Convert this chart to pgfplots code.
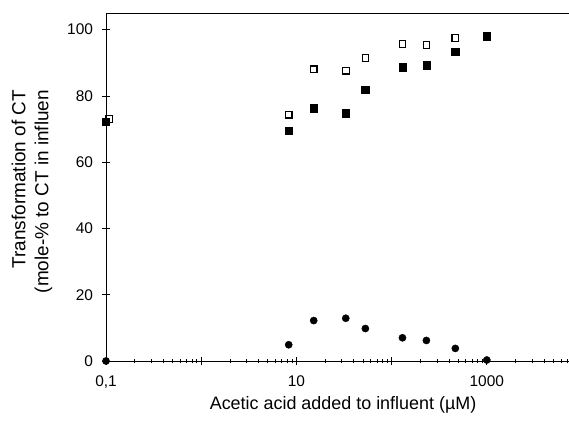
\documentclass[border=0pt]{standalone}
\usepackage{fontspec}
\setmainfont{Liberation Sans}
\usepackage{pgfplots}
\pgfplotsset{compat=1.18}
\begin{document}
\begin{tikzpicture}
\path[use as bounding box] (-106bp,-62bp) rectangle (463bp,361bp);
\begin{axis}[
  at={(0,0)}, anchor=south west,
  scale only axis, width=463bp, height=348bp,
  xmode=log, xmin=0.1, xmax=7300, ymin=0, ymax=105,
  axis x line=box, axis y line=left,
  axis line style={-, line width=0.9pt, black},
  xtick={0.1,1,10,100,1000}, xticklabels={{0,1},,10,,1000},
  minor xtick={0.2,0.3,0.4,0.5,0.6,0.7,0.8,0.9,2,3,4,5,6,7,8,9,20,30,40,50,60,70,80,90,200,300,400,500,600,700,800,900,2000,3000,4000,5000,6000,7000},
  ytick={0,20,40,60,80,100},
  tick align=center, major tick length=9bp, minor tick length=5bp,
  xtick pos=bottom, ytick pos=left,
  every tick/.style={black, line width=0.7pt},
  every tick label/.append style={font=\fontsize{15.5}{18}\selectfont},
  /pgf/number format/assume math mode=true,
  xticklabel style={yshift=-7bp},
  yticklabel style={xshift=-5bp},
  xlabel={Acetic acid added to influent (µM)},
  xlabel style={font=\fontsize{18}{21}\selectfont, at={(axis description cs:0.512,-0.126)}, anchor=center},
  ylabel={Transformation of CT\\(mole-\% to CT in influen},
  ylabel style={font=\fontsize{19}{23}\selectfont, align=right, at={(axis description cs:-0.160,0.779)}, anchor=east, inner sep=0pt},
  clip=false,
]
\addplot[only marks, mark=square, mark size=3.3bp, mark options={draw=black, fill=white, line width=1.1pt}] coordinates {
(0.107,73) (8.3,74.3) (15.2,88) (33,87.6) (53,91.4) (130,95.7) (232,95.4) (467,97.4) (1000,98)};
\addplot[only marks, mark=square*, mark size=3.7bp, mark options={draw=black, fill=black}] coordinates {
(0.1,72.2) (8.3,69.5) (15.2,76.3) (33,74.8) (53,81.8) (130,88.7) (232,89.3) (467,93.4) (1000,98)};
\addplot[only marks, mark=*, mark size=3.6bp, mark options={draw=black, fill=black}] coordinates {
(0.1,0) (8.3,4.9) (15.2,12.2) (33,12.9) (53,9.8) (130,7.0) (232,6.2) (467,3.8) (1000,0.3)};
\end{axis}
\end{tikzpicture}
\end{document}
